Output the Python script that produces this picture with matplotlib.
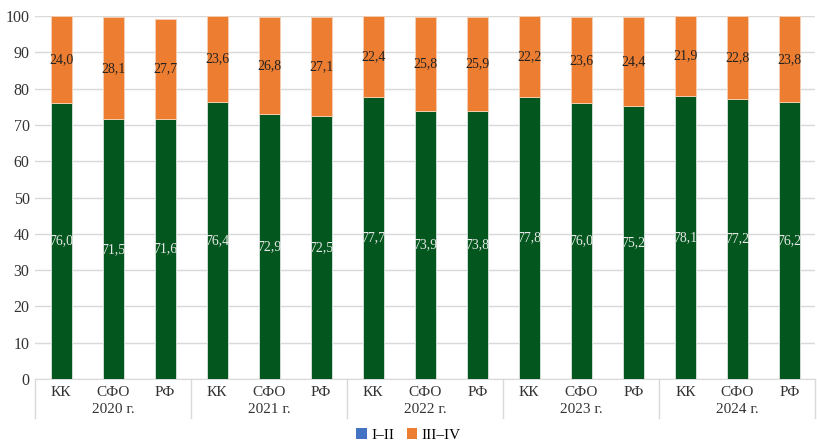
import matplotlib.pyplot as plt
import matplotlib.transforms as mtransforms
from matplotlib.patches import Patch

plt.rcParams['font.family'] = ['Liberation Serif', 'DejaVu Serif']

years = ["2020 г.", "2021 г.", "2022 г.", "2023 г.", "2024 г."]
regions = ["КК", "СФО", "РФ"]
stage_1_2 = [76.0, 71.5, 71.6, 76.4, 72.9, 72.5, 77.7, 73.9, 73.8, 77.8, 76.0, 75.2, 78.1, 77.2, 76.2]
stage_3_4 = [24.0, 28.1, 27.7, 23.6, 26.8, 27.1, 22.4, 25.8, 25.9, 22.2, 23.6, 24.4, 21.9, 22.8, 23.8]
y_ticks = [0, 10, 20, 30, 40, 50, 60, 70, 80, 90, 100]

green = "#03561D"
orange = "#ED7D31"
blue = "#4472C4"

fig = plt.figure(figsize=(8.17, 4.4), dpi=100)
ax = fig.add_axes([0.043, 0.1386, 0.955, 0.825])

n = len(stage_1_2)
x = list(range(n))
w = 0.4
ax.bar(x, stage_1_2, width=w, color=green, edgecolor="#d9e6dc", linewidth=0.6, zorder=3)
ax.bar(x, stage_3_4, width=w, bottom=stage_1_2, color=orange, edgecolor="#f6d0b4", linewidth=0.6, zorder=3)

for i in range(n):
    ax.text(x[i], stage_1_2[i] / 2, f"{stage_1_2[i]:.1f}".replace(".", ","),
            ha="center", va="center", fontsize=10, color="#e8e8e8", zorder=4)
    top_mid = stage_1_2[i] + stage_3_4[i] / 2
    ax.text(x[i], top_mid, f"{stage_3_4[i]:.1f}".replace(".", ","),
            ha="center", va="center", fontsize=10, color="#222222", zorder=4)

ax.set_xlim(-0.5, n - 0.5)
ax.set_ylim(0, 100)
ax.set_yticks(y_ticks)
ax.set_yticklabels([str(t) for t in y_ticks], fontsize=11.5, color="#333333")
ax.yaxis.grid(True, color="#d9d9d9", linewidth=1.0, zorder=0)
ax.set_axisbelow(True)
for s in ["left", "right", "top"]:
    ax.spines[s].set_visible(False)
ax.spines["bottom"].set_color("#d9d9d9")
ax.tick_params(axis="y", length=0, pad=4)
ax.tick_params(axis="x", length=0)
ax.set_xticks(x)
ax.set_xticklabels([regions[i % 3] for i in x], fontsize=11, color="#333333")
ax.tick_params(axis="x", pad=5)

trans = mtransforms.blended_transform_factory(ax.transData, ax.transAxes)
for g, yr in enumerate(years):
    ax.text(g * 3 + 1, -0.085, yr, transform=trans, ha="center", va="center",
            fontsize=11, color="#333333")
for b in range(len(years) + 1):
    xb = b * 3 - 0.5
    ax.plot([xb, xb], [0, -0.107], transform=trans, color="#d9d9d9",
            linewidth=1.0, clip_on=False)

handles = [Patch(facecolor=blue, label="I–II"), Patch(facecolor=orange, label="III–IV")]
fig.legend(handles=handles, loc="center", bbox_to_anchor=(0.5, 0.012), ncol=2,
           frameon=False, fontsize=11, handlelength=0.7, handleheight=0.7,
           handletextpad=0.3, columnspacing=0.8)

fig.savefig("out.png", dpi=100)
